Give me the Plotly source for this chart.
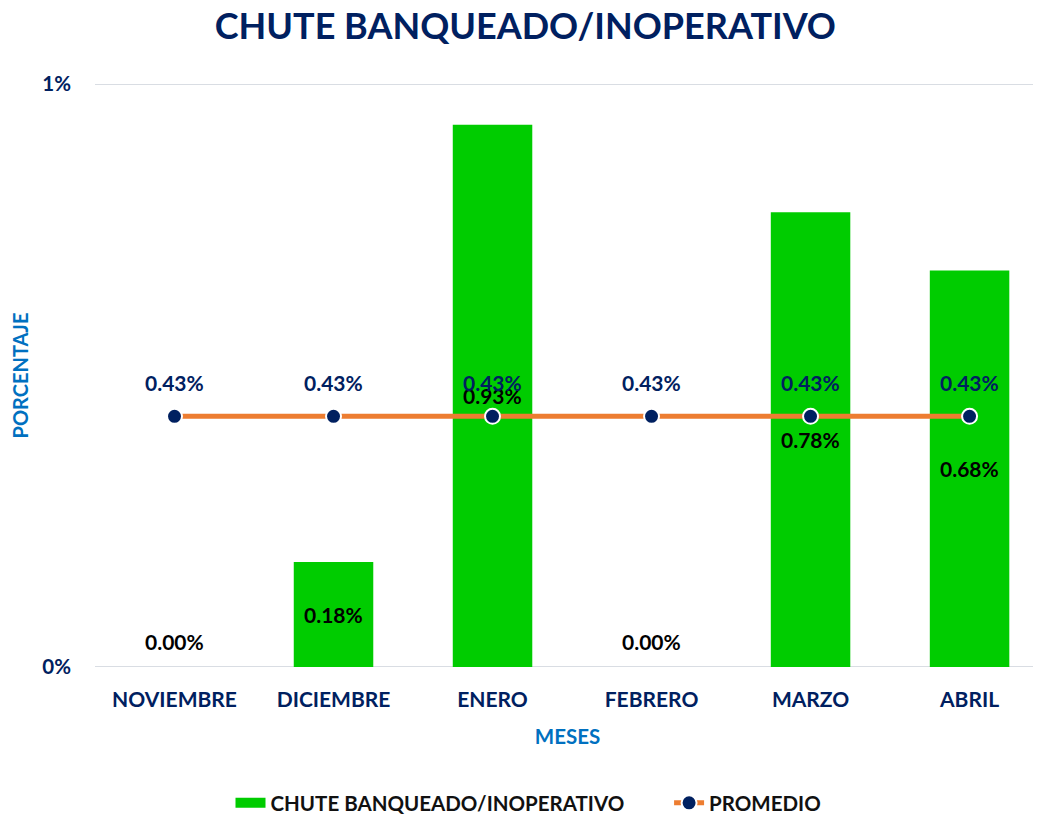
import plotly.graph_objects as go

meses = ["NOVIEMBRE", "DICIEMBRE", "ENERO", "FEBRERO", "MARZO", "ABRIL"]
chute = [0.0000, 0.0018, 0.0093, 0.0000, 0.0078, 0.0068]
promedio = [0.0043] * 6
chute_labels = ["0.00%", "0.18%", "0.93%", "0.00%", "0.78%", "0.68%"]
prom_labels = ["0.43%"] * 6
y_ticks = [0, 0.01]
y_ticktext = ["0%", "1%"]

NAVY = "#002060"
GREEN = "#00CC00"
FONT = "Lato"

fig = go.Figure()
fig.add_trace(go.Bar(
    x=meses, y=chute, name="CHUTE BANQUEADO/INOPERATIVO",
    marker=dict(color=GREEN, line=dict(width=0)), showlegend=False,
))
# legend proxy for the bar series (wide green block like the reference)
fig.add_trace(go.Scatter(
    x=[None], y=[None], name="CHUTE BANQUEADO/INOPERATIVO" + "\u00a0" * 8,
    mode="lines", line=dict(color=GREEN, width=14),
))
fig.add_trace(go.Scatter(
    x=meses, y=promedio, name="PROMEDIO", mode="lines+markers",
    line=dict(color="#ED7D31", width=5),
    marker=dict(color=NAVY, size=15, line=dict(color="white", width=2)),
))

annotations = []
for m, v, t in zip(meses, chute, chute_labels):
    annotations.append(dict(
        x=m, y=v / 2, text=t, showarrow=False,
        yshift=26 if v == 0 else 0,
        font=dict(family=FONT, size=21, color="black", weight="bold"),
    ))
for m, v, t in zip(meses, promedio, prom_labels):
    annotations.append(dict(
        x=m, y=v, text=t, showarrow=False, yshift=34,
        font=dict(family=FONT, size=21, color=NAVY, weight="bold"),
    ))

shapes = [dict(type="line", xref="paper", x0=0, x1=1, yref="y", y0=t, y1=t,
               line=dict(color="#D9DDE3", width=2), layer="below") for t in y_ticks]

fig.update_layout(
    width=1041, height=815,
    margin=dict(l=87, r=9, t=76, b=156),
    paper_bgcolor="white", plot_bgcolor="white",
    bargap=0.5,
    title=dict(text="CHUTE BANQUEADO/INOPERATIVO", x=0.497, xanchor="center",
               y=0.978, yanchor="middle", yref="container",
               font=dict(family=FONT, size=36, color=NAVY, weight="bold")),
    xaxis=dict(range=[-0.5, 5.443], showgrid=False, showline=False, ticks="",
               automargin=False, ticklabelstandoff=18,
               tickfont=dict(family=FONT, size=21, color=NAVY, weight="bold"),
               title=dict(text="MESES", standoff=19,
                          font=dict(family=FONT, size=20.5, color="#0070C0", weight="bold"))),
    yaxis=dict(range=[0, 0.01], tickvals=y_ticks, ticktext=y_ticktext,
               showgrid=False, zeroline=False, automargin=False,
               ticks="", ticklabelstandoff=23,
               tickfont=dict(family=FONT, size=20.5, color=NAVY, weight="bold"),
               title=dict(text="PORCENTAJE", standoff=8,
                          font=dict(family=FONT, size=20, color="#0070C0", weight="bold"))),
    legend=dict(orientation="h", xref="container", yref="container",
                x=0.5, xanchor="center", y=0.0245, yanchor="middle",
                traceorder="normal",
                font=dict(family=FONT, size=20.5, color="#111111", weight="bold")),
    annotations=annotations,
    shapes=shapes,
    showlegend=True,
)

fig.write_html("out.html")
